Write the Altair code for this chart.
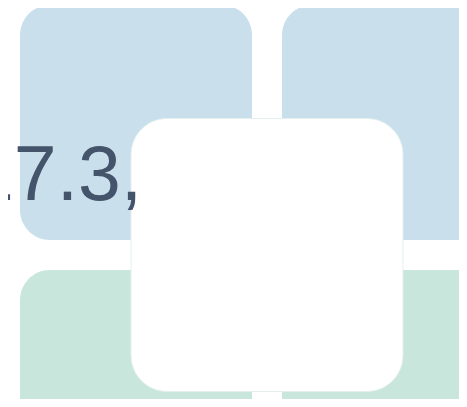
import altair as alt
import pandas as pd

# tile grid (2 x 2 crop of a tile chart)
tile_cols = [0, 1, 0, 1]
tile_rows = [0, 0, 1, 1]
tile_groups = ["Group A", "Group A", "Group B", "Group B"]
group_names = ["Group A", "Group B"]
group_colors = ["#c9e0ec", "#c8e6dc"]

# highlighted card centred between the four tiles
focus_cols = [0.5]
focus_rows = [0.5]

# value label
label_texts = ["17.3,"]
label_cols = [-0.187]
label_rows = [0.736]

tiles_df = pd.DataFrame({"col": tile_cols, "row": tile_rows, "group": tile_groups})
focus_df = pd.DataFrame({"col": focus_cols, "row": focus_rows})
label_df = pd.DataFrame({"label": label_texts, "col": label_cols, "row": label_rows})

xs = alt.Scale(domain=[-0.0458, 1.6756], nice=False, zero=False)
ys = alt.Scale(domain=[0.0113, 1.4868], nice=False, zero=False, reverse=True)

tiles = (
    alt.Chart(tiles_df)
    .transform_calculate(c2="datum.col + 0.8855", r2="datum.row + 0.8868")
    .mark_rect(cornerRadius=30)
    .encode(
        x=alt.X("col:Q", scale=xs, axis=None),
        x2="c2:Q",
        y=alt.Y("row:Q", scale=ys, axis=None),
        y2="r2:Q",
        color=alt.Color("group:N", scale=alt.Scale(domain=group_names, range=group_colors), legend=None),
    )
)

focus = (
    alt.Chart(focus_df)
    .transform_calculate(
        x1="datum.col + 0.4428 - 0.519",
        x2="datum.col + 0.4428 + 0.519",
        y1="datum.row + 0.4434 - 0.515",
        y2="datum.row + 0.4434 + 0.515",
    )
    .mark_rect(cornerRadius=36, fill="white", stroke="#e4efef", strokeWidth=1)
    .encode(
        x=alt.X("x1:Q", scale=xs, axis=None),
        x2="x2:Q",
        y=alt.Y("y1:Q", scale=ys, axis=None),
        y2="y2:Q",
    )
)

labels = (
    alt.Chart(label_df)
    .mark_text(
        align="left",
        baseline="alphabetic",
        font="Liberation Sans",
        fontSize=77,
        color="#44546a",
    )
    .encode(
        x=alt.X("col:Q", scale=xs, axis=None),
        y=alt.Y("row:Q", scale=ys, axis=None),
        text="label:N",
    )
)

chart = (
    alt.layer(tiles, focus, labels)
    .properties(width=451, height=391, padding=0, autosize=alt.AutoSizeParams(type="none"), background="white")
    .configure_view(stroke=None)
)

chart.save("out.html", embed_options={"renderer": "svg", "actions": False})
